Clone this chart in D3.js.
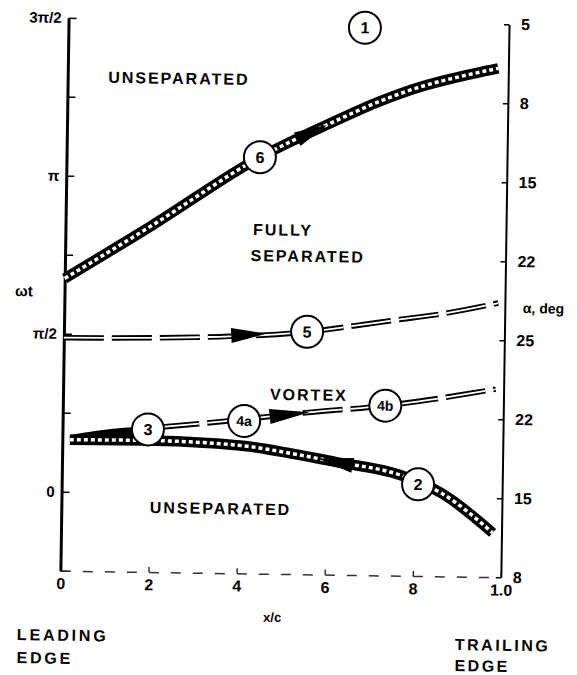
<!DOCTYPE html>
<html>
<head>
<meta charset="utf-8">
<script src="https://cdn.jsdelivr.net/npm/d3@7/dist/d3.min.js"></script>
<style>
body { margin: 0; background: #fff; }
svg text { font-family: "Liberation Sans", Arial, sans-serif; font-weight: bold; fill: #000; }
</style>
</head>
<body>
<svg width="577" height="675"></svg>
<script>
// phase wt is kept in units of pi/4, chord position as x/c
const phaseTicks = [-1, 0, 1, 2, 3, 4, 5, 6];
const phaseLabels = ["", "0", "", "\u03c0/2", "", "\u03c0", "", "3\u03c0/2"];
const alphaLabels = ["8", "15", "22", "25", "22", "15", "8", "5"];
const chordTicks = [0, 0.2, 0.4, 0.6, 0.8, 1.0];
const chordLabels = ["0", "2", "4", "6", "8", "1.0"];

// boundary 6 : unseparated -> fully separated
const curve6 = [[0, 2.70], [0.2, 3.40], [0.439, 4.27], [0.6, 4.72], [0.709, 5.00], [0.8, 5.19], [0.877, 5.31], [0.977, 5.44]];
// boundary 5 : fully separated -> vortex
const curve5 = [[0, 1.95], [0.3, 1.98], [0.552, 2.07], [0.665, 2.16], [0.746, 2.23], [0.865, 2.33], [0.985, 2.47]];
// boundary 4a/4b : vortex
const curve4 = [[0.22, 0.835], [0.364, 0.92], [0.558, 1.05], [0.732, 1.15], [0.982, 1.38]];
// boundary 3 wedge top, merging into the band
const wedge3 = [[0.017, 0.72], [0.14, 0.82], [0.194, 0.84]];
// boundary 2 : reattachment
const curve2 = [[0.017, 0.66], [0.19, 0.665], [0.33, 0.645], [0.42, 0.61], [0.517, 0.53], [0.62, 0.43], [0.768, 0.275], [0.862, 0.054], [0.98, -0.44]];

const markerNames = ["1", "2", "3", "4a", "4b", "5", "6"];
const markerChord = [0.673, 0.809, 0.194, 0.412, 0.732, 0.552, 0.439];
const markerPhase = [5.93, 0.16, 0.805, 0.93, 1.15, 2.07, 4.27];

const svg = d3.select("svg");
const g = svg.append("g").attr("transform", "rotate(0.85,285,295)");

const x = d3.scaleLinear().domain([0, 1]).range([64.5, 505]);
const y = d3.scaleLinear().domain([-1, 6]).range([574, 21]);

function interp(data, xv) {
    for (let i = 1; i < data.length; i++) {
        if (xv <= data[i][0]) {
            const t = (xv - data[i-1][0]) / (data[i][0] - data[i-1][0]);
            return data[i-1][1] + t * (data[i][1] - data[i-1][1]);
        }
    }
    return data[data.length - 1][1];
}

// left axis
const leftAx = g.append("g").attr("transform", "translate(64.5,0)")
    .call(d3.axisLeft(y).tickValues(phaseTicks).tickSize(-8).tickSizeOuter(0).tickPadding(7)
        .tickFormat((d, i) => phaseLabels[i]));
leftAx.select(".domain").attr("stroke-width", 3);
leftAx.selectAll(".tick line").attr("stroke-width", 1.5);
leftAx.selectAll("text").attr("font-size", 15);

// right axis
const rightAx = g.append("g").attr("transform", "translate(505,0)")
    .call(d3.axisRight(y).tickValues(phaseTicks).tickSize(-5).tickSizeOuter(0).tickPadding(12)
        .tickFormat((d, i) => alphaLabels[i]));
rightAx.select(".domain").attr("stroke-width", 2);
rightAx.selectAll(".tick line").attr("stroke-width", 1.5);
rightAx.selectAll("text").attr("font-size", 16);

// bottom axis
const botAx = g.append("g").attr("transform", "translate(0,574)")
    .call(d3.axisBottom(x).tickValues(chordTicks).tickSize(-5).tickSizeOuter(0).tickPadding(7)
        .tickFormat((d, i) => chordLabels[i]));
botAx.select(".domain").attr("stroke-width", 1.5).attr("stroke-dasharray", "10,12").attr("stroke", "#333");
botAx.selectAll(".tick line").attr("stroke-width", 1.2);
botAx.selectAll("text").attr("font-size", 16);

const line = d3.line().x(d => x(d[0])).y(d => y(d[1])).curve(d3.curveMonotoneX);

// wedge where 3 and 4 merge with the band
const wedge = d3.area()
    .x(d => x(d[0])).y0(d => y(interp(curve2, d[0]))).y1(d => y(d[1]))
    .curve(d3.curveMonotoneX);
g.append("path").attr("d", wedge(wedge3)).attr("fill", "#000");

// hatched bands
[curve2, curve6].forEach(c => {
    g.append("path").attr("d", line(c)).attr("fill", "none")
        .attr("stroke", "#000").attr("stroke-width", 10.5);
    g.append("path").attr("d", line(c)).attr("fill", "none")
        .attr("stroke", "#fff").attr("stroke-width", 3.5).attr("stroke-dasharray", "4,3");
});

// double dashed lines
[curve4, curve5].forEach(c => {
    g.append("path").attr("d", line(c)).attr("fill", "none")
        .attr("stroke", "#000").attr("stroke-width", 5.5).attr("stroke-dasharray", "40,8");
    g.append("path").attr("d", line(c)).attr("fill", "none")
        .attr("stroke", "#fff").attr("stroke-width", 1.8).attr("stroke-dasharray", "40,8");
});

// arrow heads
const arrows = [[curve6, 0.523, 0.59], [curve5, 0.38, 0.46], [curve4, 0.47, 0.56], [curve2, 0.66, 0.58]];
arrows.forEach(([c, b, t]) => {
    const bx = x(b), by = y(interp(c, b));
    const tx = x(t), ty = y(interp(c, t));
    const len = Math.hypot(tx - bx, ty - by);
    const nx = -(ty - by) / len * 7.5, ny = (tx - bx) / len * 7.5;
    g.append("path")
        .attr("d", `M${tx},${ty}L${bx + nx},${by + ny}L${bx - nx},${by - ny}Z`)
        .attr("fill", "#000");
});

// numbered circles
markerNames.forEach((m, i) => {
    const cx = x(markerChord[i]), cy = y(markerPhase[i]);
    g.append("circle").attr("cx", cx).attr("cy", cy).attr("r", 16)
        .attr("fill", "#fff").attr("stroke", "#000").attr("stroke-width", 2);
    g.append("text").attr("x", cx).attr("y", cy).attr("dy", "0.36em")
        .attr("text-anchor", "middle").attr("font-size", m.length > 1 ? 14 : 16).text(m);
});

// region and edge labels
function label(t, px, py, size, spacing, anchor) {
    g.append("text").attr("x", px).attr("y", py).attr("font-size", size)
        .attr("letter-spacing", spacing).attr("text-anchor", anchor || "start").text(t);
}
label("UNSEPARATED", 105, 85.5, 16, 2);
label("FULLY", 252, 235.5, 16, 2);
label("SEPARATED", 250, 261.5, 16, 2);
label("VORTEX", 271.5, 400, 16, 2);
label("UNSEPARATED", 153, 515, 16, 2);
label("\u03c9t", 15, 300, 15, 0);
label("\u03b1, deg", 523, 309.5, 14, 0);
label("x/c", 277, 622, 13, 0, "middle");
label("LEADING", 22, 644, 16, 2.8);
label("EDGE", 22, 667, 16, 2.8);
label("TRAILING", 460, 647.5, 16, 2.5);
label("EDGE", 460, 668.5, 16, 2.5);
</script>
</body>
</html>
